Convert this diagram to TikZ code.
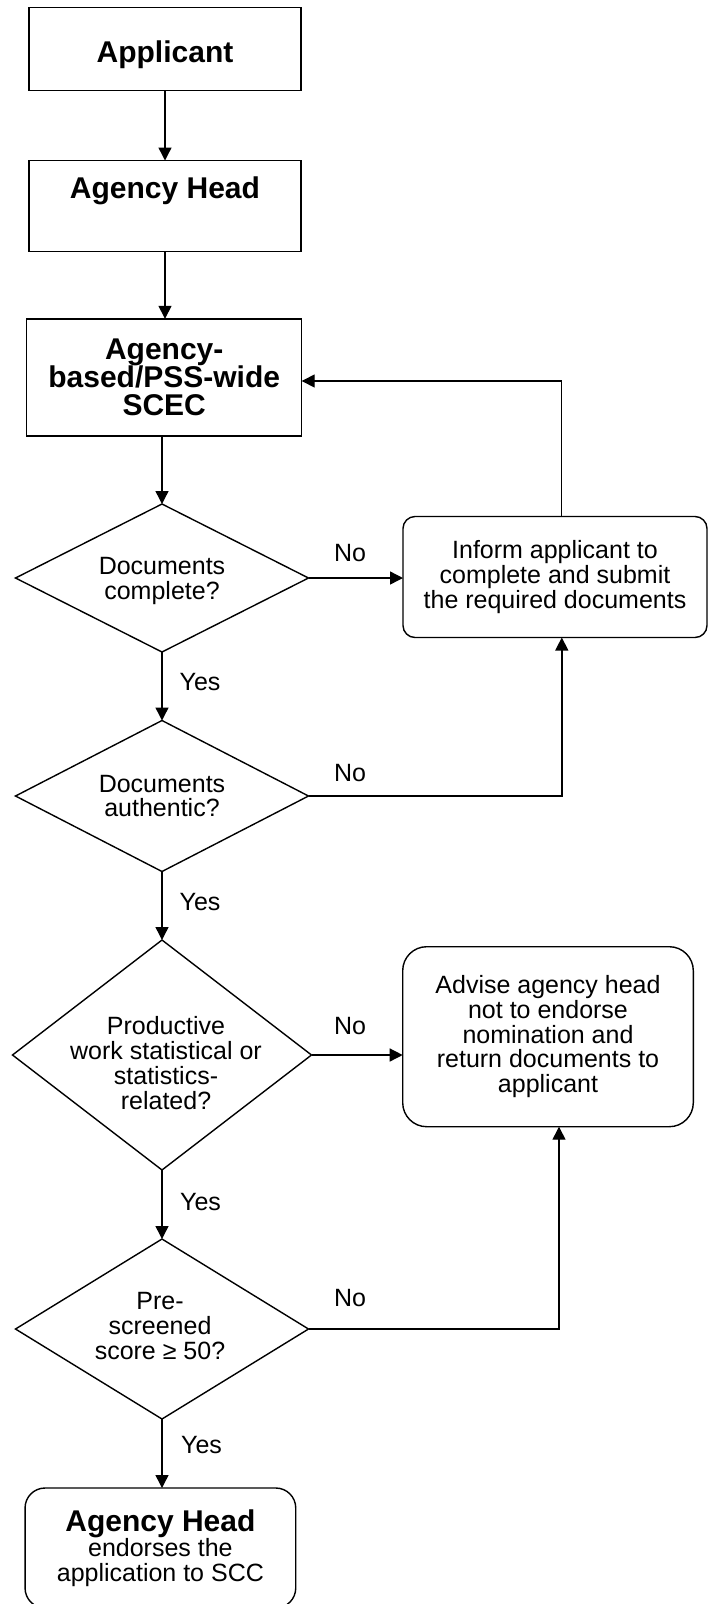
\documentclass[tikz,border=0pt]{standalone}
\usepackage{fontspec}
\usepackage{tikz}
\usetikzlibrary{shapes.geometric}
\usetikzlibrary{arrows.meta}
\usetikzlibrary{calc}
\setmainfont{Liberation Sans}
\newcommand\hdfont{\fontsize{30}{28.3}\selectfont\bfseries}
\newcommand\txtfont{\fontsize{25}{24.7}\selectfont}

\tikzset{
  box/.style={draw, line width=1.4pt, inner sep=0pt, outer sep=0pt, align=center, font=\hdfont},
  rbox/.style={box, font=\txtfont},
  decision/.style={draw, diamond, line width=1.4pt, inner sep=0pt, outer sep=0pt},
  qtext/.style={align=center, font=\txtfont, inner sep=0pt},
  lbl/.style={font=\txtfont, inner sep=0pt},
  flow/.style={line width=1.4pt}
}

\begin{document}
\begin{tikzpicture}[>={Triangle[length=13pt, width=13pt]}, x=1pt, y=-1pt]

\useasboundingbox (0,0) rectangle (708,1604);

% main column
\node[box, minimum width=272pt, minimum height=83pt, text height=26pt, text depth=0pt]
  (app)  at (165, 49)    {Applicant};
\node[box, minimum width=272pt, minimum height=91pt]  (head) at (165, 206) {Agency Head\\\strut};
\node[box, minimum width=275pt, minimum height=117pt] (scec) at (164.2, 377.3)
  {Agency-\\based/PSS-wide\\SCEC};

% decisions
\node[decision, minimum width=293pt, minimum height=148pt] (q1) at (162, 578)  {};
\node[decision, minimum width=293pt, minimum height=151pt] (q2) at (162, 796)  {};
\node[decision, minimum width=299pt, minimum height=230pt] (q3) at (162, 1055) {};
\node[decision, minimum width=293pt, minimum height=180pt] (q4) at (162, 1329) {};

\node[qtext] (q1t) at (162, 581)  {Documents\\complete?};
\node[qtext] (q2t) at (162, 796)  {Documents\\authentic?};
\node[qtext] (q3t) at (166, 1063) {Productive\\work statistical or\\statistics-\\related?};
\node[qtext] (q4t) at (160, 1326) {Pre-\\screened\\score ≥ 50?};

% side boxes
\node[rbox, rounded corners=12pt, minimum width=304pt, minimum height=121pt] (inform) at (555, 577)
  {Inform applicant to\\complete and submit\\the required documents};
\node[rbox, rounded corners=24pt, minimum width=290.6pt, minimum height=180pt] (advise) at (548, 1036.7)
  {Advise agency head\\not to endorse\\nomination and\\return documents to\\applicant};

% last box
\node[rbox, rounded corners=20pt, minimum width=270.7pt, minimum height=120pt] (endorse) at (160.4, 1548)
  {{\hdfont Agency Head}\\[1pt]endorses the\\application to SCC};

% Yes / No
\node[lbl] (no1)  at (350, 553)    {No};
\node[lbl] (no2)  at (350, 773)    {No};
\node[lbl] (no3)  at (350, 1026)   {No};
\node[lbl] (no4)  at (350, 1298)   {No};
\node[lbl] (yes1) at (200, 682)    {Yes};
\node[lbl] (yes2) at (200, 902)    {Yes};
\node[lbl] (yes3) at (200.5, 1202) {Yes};
\node[lbl] (yes4) at (201.5, 1445) {Yes};

% turning points
\coordinate (back)  at (561.7, 381);
\coordinate (up1)   at (561.8, 796);
\coordinate (up2)   at (559, 1329);

% arrows down
\draw[flow, ->] (app) -- (head);
\draw[flow, ->] (head.south) -- (head.south |- scec.north);
\draw[flow, ->] (scec.south -| q1.north) -- (q1.north);
\draw[flow, ->] (q1.south) -- (q2.north);
\draw[flow, ->] (q2.south) -- (q3.north);
\draw[flow, ->] (q3.south) -- (q4.north);
\draw[flow, ->] (q4.south) -- (q4.south |- endorse.north);

% arrows right
\draw[flow, ->] (q1.east) -- (q1.east -| inform.west);
\draw[flow, ->] (q2.east) -| (up1 |- inform.south);
\draw[flow, ->] (q3.east) -- (q3.east -| advise.west);
\draw[flow, ->] (q4.east) -| (up2 |- advise.south);

% back to the committee
\draw[flow, ->] (back |- inform.north) -- (back) -- (back -| scec.east);

\end{tikzpicture}
\end{document}
